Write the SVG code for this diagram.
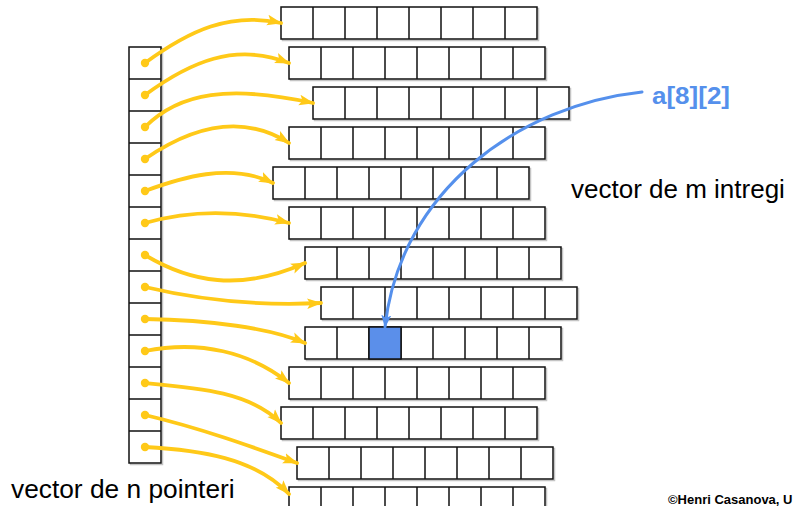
<svg xmlns="http://www.w3.org/2000/svg" xmlns:xlink="http://www.w3.org/1999/xlink" width="793" height="506" viewBox="0 0 793 506">
<style>
.ptr{fill:none;stroke:#FFC918;stroke-width:3.8;stroke-linecap:round}
.dot{fill:#FFC918}
.blue{fill:none;stroke:#5590EC;stroke-width:3;stroke-linecap:round}
.lbl{font-family:"Liberation Sans",Arial,sans-serif;fill:#000}
.cellline{stroke:#111;stroke-width:1.5}
</style>
<defs>
<g id="row">
<rect x="1.5" y="1.5" width="256" height="32" fill="none" stroke="#c4c4c4" stroke-width="1.5"/>
<rect x="0" y="0" width="256" height="32" fill="#fff" stroke="#111" stroke-width="1.5"/>
<path class="cellline" d="M32,0V32M64,0V32M96,0V32M128,0V32M160,0V32M192,0V32M224,0V32"/>
</g>
<marker id="ay" markerUnits="userSpaceOnUse" markerWidth="15" markerHeight="12" refX="13" refY="5" orient="auto" viewBox="0 0 14 10">
<path d="M0,0 L14,5 L0,10 L3,5 z" fill="#FFC918"/>
</marker>
<marker id="ab" markerUnits="userSpaceOnUse" markerWidth="14" markerHeight="12" refX="12" refY="5" orient="auto" viewBox="0 0 14 10">
<path d="M0,0 L13,5 L0,10 L3,5 z" fill="#5590EC"/>
</marker>
</defs>
<rect width="793" height="506" fill="#fff"/>

<g id="pointer-vector">
<rect x="130.5" y="48.5" width="32" height="416" fill="none" stroke="#c4c4c4" stroke-width="1.5"/>
<rect x="129" y="47" width="32" height="416" fill="#fff" stroke="#111" stroke-width="1.5"/>
<path class="cellline" d="M129,79H161M129,111H161M129,143H161M129,175H161M129,207H161M129,239H161M129,271H161M129,303H161M129,335H161M129,367H161M129,399H161M129,431H161"/>
</g>

<g id="row0" transform="translate(281,7)"><use xlink:href="#row" href="#row"/></g>
<g id="row1" transform="translate(289,47)"><use xlink:href="#row" href="#row"/></g>
<g id="row2" transform="translate(313,87)"><use xlink:href="#row" href="#row"/></g>
<g id="row3" transform="translate(289,127)"><use xlink:href="#row" href="#row"/></g>
<g id="row4" transform="translate(273,167)"><use xlink:href="#row" href="#row"/></g>
<g id="row5" transform="translate(289,207)"><use xlink:href="#row" href="#row"/></g>
<g id="row6" transform="translate(305,247)"><use xlink:href="#row" href="#row"/></g>
<g id="row7" transform="translate(321,287)"><use xlink:href="#row" href="#row"/></g>
<g id="row8" transform="translate(305,327)"><use xlink:href="#row" href="#row"/><rect x="64" y="0" width="32" height="32" fill="#5B8FEA" stroke="#111" stroke-width="1.5"/></g>
<g id="row9" transform="translate(289,367)"><use xlink:href="#row" href="#row"/></g>
<g id="row10" transform="translate(281,407)"><use xlink:href="#row" href="#row"/></g>
<g id="row11" transform="translate(297,447)"><use xlink:href="#row" href="#row"/></g>
<g id="row12" transform="translate(289,487)"><use xlink:href="#row" href="#row"/></g>

<g id="connectors">
<path class="ptr" marker-end="url(#ay)" d="M145,63 C190,30 230,12 281,23"/>
<path class="ptr" marker-end="url(#ay)" d="M145,95 C190,62 235,42 289,63"/>
<path class="ptr" marker-end="url(#ay)" d="M145,127 C180,92 230,85 313,103"/>
<path class="ptr" marker-end="url(#ay)" d="M145,159 C190,128 240,112 289,143"/>
<path class="ptr" marker-end="url(#ay)" d="M145,191 C180,178 230,162 273,183"/>
<path class="ptr" marker-end="url(#ay)" d="M145,223 C190,210 240,210 289,223"/>
<path class="ptr" marker-end="url(#ay)" d="M145,255 C190,282 240,292 305,263"/>
<path class="ptr" marker-end="url(#ay)" d="M145,287 C200,300 260,306 321,303"/>
<path class="ptr" marker-end="url(#ay)" d="M145,319 C210,320 270,328 305,343"/>
<path class="ptr" marker-end="url(#ay)" d="M145,351 C200,340 250,352 289,383"/>
<path class="ptr" marker-end="url(#ay)" d="M145,383 C200,388 250,392 281,423"/>
<path class="ptr" marker-end="url(#ay)" d="M145,415 C200,428 250,446 297,463"/>
<path class="ptr" marker-end="url(#ay)" d="M145,447 C200,450 255,458 289,494"/>
<g class="dot">
<circle cx="145" cy="63" r="4.2"/><circle cx="145" cy="95" r="4.2"/><circle cx="145" cy="127" r="4.2"/><circle cx="145" cy="159" r="4.2"/><circle cx="145" cy="191" r="4.2"/><circle cx="145" cy="223" r="4.2"/><circle cx="145" cy="255" r="4.2"/><circle cx="145" cy="287" r="4.2"/><circle cx="145" cy="319" r="4.2"/><circle cx="145" cy="351" r="4.2"/><circle cx="145" cy="383" r="4.2"/><circle cx="145" cy="415" r="4.2"/><circle cx="145" cy="447" r="4.2"/>
</g>
<path class="blue" marker-end="url(#ab)" d="M642,92 C520,105 400,190 385,327"/>
</g>

<text class="lbl" x="652" y="104" font-size="24" font-weight="bold" style="fill:#5590EC" textLength="78" lengthAdjust="spacingAndGlyphs">a[8][2]</text>
<text class="lbl" x="571" y="198" font-size="26">vector de m intregi</text>
<text class="lbl" x="11" y="498" font-size="26.3">vector de n pointeri</text>
<text class="lbl" x="668" y="504" font-size="13" font-weight="bold">©Henri Casanova, U</text>
</svg>
